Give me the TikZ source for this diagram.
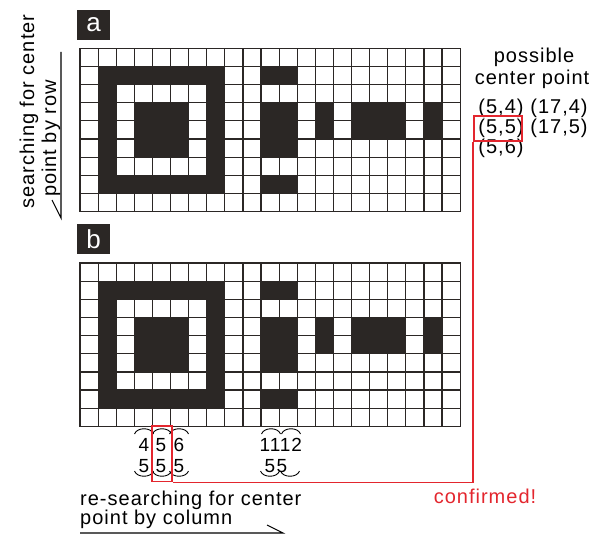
\documentclass[tikz,border=0pt]{standalone}
\usepackage{fontspec}
\setmainfont[LetterSpace=5]{Liberation Sans}
\definecolor{ink}{HTML}{2B2725}
\definecolor{mark}{HTML}{E3262E}
\tikzset{
  cell/.style     = {fill=ink},
  gridline/.style = {draw=ink, line width=1.2bp, line cap=rect},
  tag/.style      = {fill=ink, text=white, font=\fontsize{26bp}{26bp}\selectfont,
                     minimum width=33bp, minimum height=30bp, inner sep=0pt},
  txt/.style      = {font=\fontsize{20bp}{22bp}\selectfont, inner sep=0pt},
  num/.style      = {font=\fontsize{19bp}{20bp}\selectfont, inner sep=0pt, anchor=base},
  paren/.style    = {line width=0.9bp},
  sel/.style      = {draw=mark, line width=1.8bp, inner sep=0pt},
  confirm/.style  = {draw=mark, line width=1.8bp},
  hint/.style     = {line width=1.1bp},
}

\begin{document}
\begin{tikzpicture}[x=1bp, y=-1bp]
  \useasboundingbox (0,0) rectangle (603,534);

  % the two panels share one pattern
  \foreach \oy/\tg in {48.3/a, 263/b} {
    \node[tag] (tag\tg) at (93.5,\oy-23.7) {\tg};
    \begin{scope}[shift={(80,\oy)}, x=18.1bp, y=-18.15bp]
      \fill[cell] (1,1) rectangle (8,8);
      \fill[white] (2,2) rectangle (7,7);
      \fill[cell] (3,3) rectangle (6,6);
      \fill[cell] (10,1) rectangle (12,2) (10,3) rectangle (12,6) (10,7) rectangle (12,8)
                  (13,3) rectangle (14,5) (15,3) rectangle (18,5) (19,3) rectangle (20,5);
      \foreach \c in {0,...,21} \draw[gridline] (\c,0) -- (\c,9);
      \foreach \r in {0,...,9} \draw[gridline] (0,\r) -- (21,\r);
    \end{scope}
  }

  \node[txt, rotate=90, anchor=base] (rowhint1) at (34,111.5) {searching for center};
  \node[txt, rotate=90, anchor=base] (rowhint2) at (56,138.5) {point by row};
  \coordinate (rowtop) at (61,52);
  \coordinate (rowend) at (61,218);
  \draw[hint] (rowtop) -- (rowend) -- ++(-9,-18);

  \node[txt, anchor=base] (cand1) at (534,62.7) {possible};
  \node[txt, anchor=base] (cand2) at (532,85) {center point};
  \node[txt] (p54)  at (501,108) {(5,4)};
  \node[txt] (p174) at (559,108) {(17,4)};
  \node[txt] (p55)  at (501,128) {(5,5)};
  \node[txt] (p175) at (559,128) {(17,5)};
  \node[txt] (p56)  at (501,148) {(5,6)};
  \node[sel, minimum width=48bp, minimum height=25bp] (p55box) at (498,128.5) {};

  % column check below panel b
  \foreach \cx/\n in {144/4, 161/5, 179/6} {
    \node[num] (top\n) at (\cx,451) {\n};
    \node[num] (bot\n) at (\cx,472) {5};
  }
  \node[num] (top11) at (270,451) {11};
  \node[num] (top12) at (291,451) {12};
  \node[num] (bot11) at (270,472) {5};
  \node[num] (bot12) at (282,472) {5};
  \foreach \cx in {144,162,179,271,291}
    \draw[paren] (\cx-9.5,434) .. controls (\cx-7,427) and (\cx+7,427) .. (\cx+9.5,434);
  \foreach \cx in {144,162,179,270,290}
    \draw[paren] (\cx-9.5,471) .. controls (\cx-7,478) and (\cx+7,478) .. (\cx+9.5,471);

  \node[sel, minimum width=20.5bp, minimum height=55.5bp] (colbox) at (162,453.8) {};
  \draw[confirm] (colbox.south east) -- (colbox.south east -| p55box.south west) -- (p55box.south west);
  \node[txt, text=mark, anchor=base] (ok) at (485,503) {confirmed!};

  \node[txt, anchor=base west] (colhint1) at (80,505) {re-searching for center};
  \node[txt, anchor=base west] (colhint2) at (80,524) {point by column};
  \coordinate (colstart) at (80,533);
  \coordinate (colend) at (283,533);
  \draw[hint] (colstart) -- (colend) -- ++(-16,-8);
\end{tikzpicture}
\end{document}
